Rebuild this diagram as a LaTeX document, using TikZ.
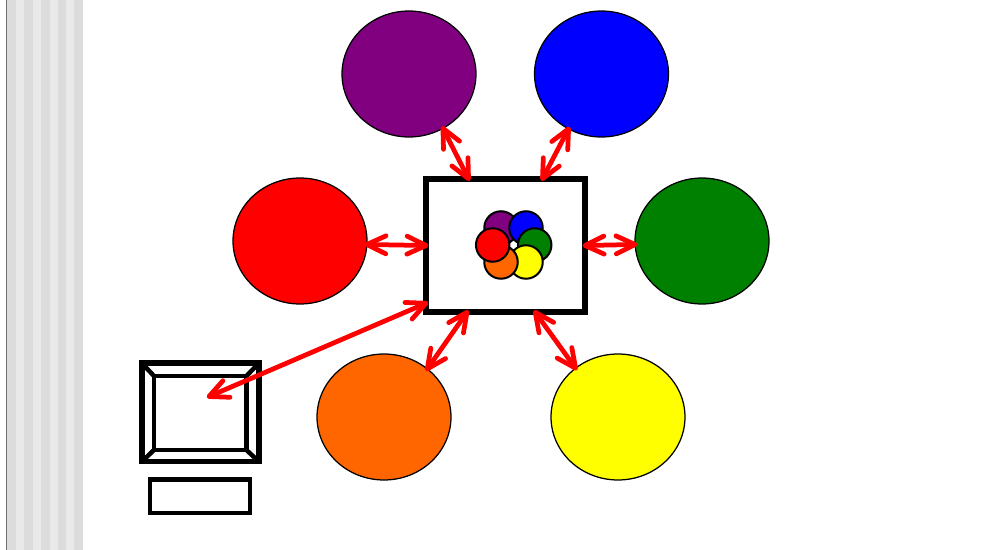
\documentclass[tikz,border=0pt]{standalone}
\usepackage{xcolor}
\usetikzlibrary{arrows.meta, shapes.geometric}
\definecolor{barlight}{HTML}{E9E9E9}
\definecolor{bardark}{HTML}{DCDCDC}
\definecolor{barline}{HTML}{707070}
\definecolor{petalorange}{HTML}{FF6600}
\definecolor{petalpurple}{HTML}{800080}
\definecolor{petalgreen}{HTML}{008000}
\definecolor{petalyellow}{HTML}{FFFF00}
\definecolor{petalblue}{HTML}{0000FF}
\definecolor{petalred}{HTML}{FF0000}
\pgfdeclarearrow{
  name = Vee,
  cache = false,
  setup code = {
    \pgfarrowssettipend{0pt}
    \pgfarrowssetlineend{-1pt}
    \pgfarrowssetbackend{-0.38cm}
    \pgfarrowssetvisualbackend{-0.38cm}
  },
  drawing code = {
    \pgfsetroundcap
    \pgfsetroundjoin
    \pgfsetdash{}{0pt}
    \pgfpathmoveto{\pgfpoint{-0.38cm}{0.18cm}}
    \pgfpathlineto{\pgfpointorigin}
    \pgfpathlineto{\pgfpoint{-0.38cm}{-0.18cm}}
    \pgfusepathqstroke
  }
}
\begin{document}
\begin{tikzpicture}[
  x=0.02cm, y=-0.02cm,
  petal/.style={ellipse, draw=black, line width=0.025cm, fill=#1, minimum width=2.68cm, minimum height=2.52cm, inner sep=0pt, outer sep=0pt},
  bud/.style={circle, draw=black, line width=0.04cm, fill=#1, minimum size=0.67cm, inner sep=0pt, outer sep=0pt},
  frame/.style={rectangle, draw=black, line width=#1, fill=white, inner sep=0pt, outer sep=0pt},
  link/.style={petalred, line width=0.095cm, line cap=round, {Vee}-{Vee}},
]
\useasboundingbox (0, 0) rectangle (1000, 550);

% Side bar
\fill[bardark] (7, 0) rectangle (83, 550);
\foreach \xa in {16, 33, 50, 66}
  \fill[barlight] (\xa, 0) rectangle (\xa+8, 550);
\draw[barline, line width=0.02cm] (6.5, 0) -- (6.5, 550);

% Large ellipses
\node[petal=petalpurple] (purple) at (409, 74) {};
\node[petal=petalblue] (blue) at (601.5, 74) {};
\node[petal=petalred] (redp) at (300, 241) {};
\node[petal=petalgreen] (green) at (702, 241) {};
\node[petal=petalorange] (orange) at (384, 417) {};
\node[petal=petalyellow] (yellowp) at (618, 417) {};

% Centre box
\node[frame=0.13cm, minimum width=3.18cm, minimum height=2.67cm] (board) at (505.5, 245.5) {};
\node[bud=petalpurple] (bud1) at (501, 228) {};
\node[bud=petalblue] (bud2) at (526, 228) {};
\node[bud=petalgreen] (bud3) at (534.7, 245) {};
\node[bud=petalyellow] (bud4) at (526, 262) {};
\node[bud=petalorange] (bud5) at (501, 262) {};
\node[bud=petalred] (bud6) at (492.7, 245) {};

% Computer
\node[frame=0.11cm, minimum width=2.34cm, minimum height=1.97cm] (monitor) at (200.4, 412.4) {};
\node[frame=0.09cm, minimum width=1.85cm, minimum height=1.48cm] (screen) at (200.2, 413) {};
\foreach \corner in {north west, north east, south west, south east}
  \draw[black, line width=0.09cm] (monitor.\corner) -- (screen.\corner);
\node[frame=0.09cm, minimum width=2.0cm, minimum height=0.67cm] (keys) at (200, 496.25) {};
\coordinate (pointer) at (209, 396.5);

% Arrows
\draw[link] (purple.-58.6) -- (board.119.4);
\draw[link] (blue.-121) -- (board.61.2);
\draw[link] (redp.-3.5) -- (board.west);
\draw[link] (green.183.5) -- (board.east);
\draw[link] (orange.48) -- (board.240.6);
\draw[link] (yellowp.131) -- (board.-66);
\draw[link] (pointer) -- (board.216);

\end{tikzpicture}
\end{document}
